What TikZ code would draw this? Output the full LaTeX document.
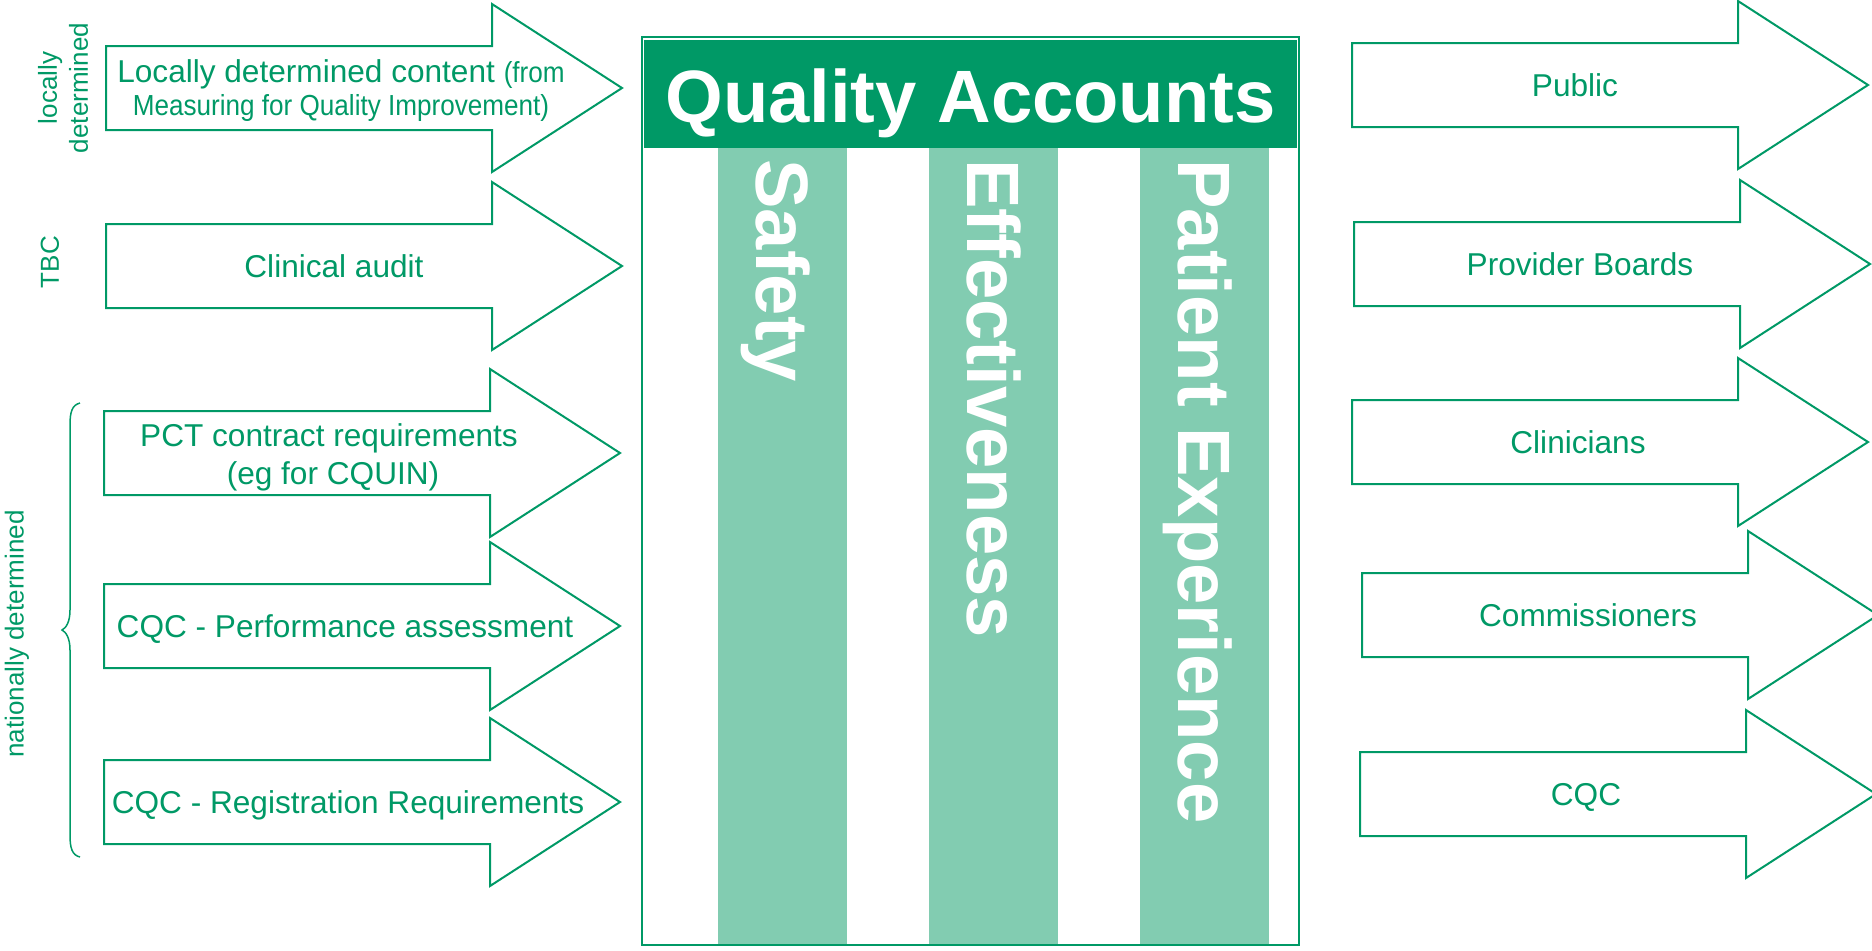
\documentclass[tikz,border=0pt]{standalone}
\usepackage{fontspec}
\setmainfont{Liberation Sans}
\newfontfamily\narrowsans[FakeStretch=0.9]{Liberation Sans}
\usetikzlibrary{positioning}

\definecolor{qgreen}{RGB}{0,153,102}
\definecolor{qpale}{RGB}{130,204,177}

\begin{document}
\begin{tikzpicture}[x=0.5pt, y=-0.5pt, align=center]
    \tikzset{
        flow/.pic       =   { \draw[qgreen, line width=1pt]
                                (0,-42) -- (386,-42) -- (386,-84) -- (516,0)
                                -- (386,84) -- (386,42) -- (0,42) -- cycle;
        }
        , txt/.style    =   { text=qgreen
                            , inner sep=0pt
                            , anchor=base
                            , font=\fontsize{15.8}{19}\selectfont
        }
        , subtxt/.style =   { txt
                            , font=\narrowsans\fontsize{14.5}{17}\selectfont
        }
        , sidetxt/.style=   { text=qgreen
                            , inner sep=0pt
                            , rotate=90
                            , font=\fontsize{13}{15.5}\selectfont
        }
        , pillar/.style =   { text=white
                            , inner sep=0pt
                            , rotate=-90
                            , anchor=base west
                            , font=\bfseries\fontsize{37.1}{40}\selectfont
        }
    }
    \useasboundingbox (0,0) rectangle (1872,950);

    % the Quality Accounts block
    \fill[qpale] (718,148)  rectangle (847,944);
    \fill[qpale] (929,148)  rectangle (1058,944);
    \fill[qpale] (1140,148) rectangle (1269,944);
    \fill[qgreen] (644,40) rectangle (1297,148);
    \draw[qgreen, line width=1.2pt] (642,37) rectangle (1299,945);
    \node(title)[anchor=base, text=white, inner sep=0pt
                , font=\bfseries\fontsize{37.1}{40}\selectfont] at (970.5,122) {Quality Accounts};
    \node(safety)[pillar]  at (756,159)  {Safety};
    \node(effect)[pillar]  at (967,159)  {Effectiveness};
    \node(patient)[pillar] at (1178,159) {Patient Experience};

    % what goes in
    \pic at (106,88)  {flow};
    \pic at (106,266) {flow};
    \pic at (104,453) {flow};
    \pic at (104,626) {flow};
    \pic at (104,802) {flow};
    \node(local)[txt]    at (341,82)  {Locally determined content {\narrowsans\fontsize{14.5}{17}\selectfont(from}};
    \node(mqi)[subtxt]   at (341,115) {Measuring for Quality Improvement)};
    \node(audit)[txt]    at (334,277) {Clinical audit};
    \node(pct)[txt]      at (329,446) {PCT contract requirements};
    \node(cquin)[txt]    at (333,484) {(eg for CQUIN)};
    \node(perf)[txt]     at (345,637) {CQC - Performance assessment};
    \node(reg)[txt]      at (348,813) {CQC - Registration Requirements};

    % where it comes from
    \node(locally)[sidetxt]  at (63,88)  {locally\\determined};
    \node(tbc)[sidetxt]      at (50,262) {TBC};
    \node(national)[sidetxt] at (17,634) {nationally determined};
    \draw[qgreen, line width=0.75pt]
        (80,403) .. controls (72,405) and (70,412) .. (70,425) -- (70,610)
        .. controls (70,622) and (66,628) .. (62,630)
        .. controls (66,632) and (70,638) .. (70,650) -- (70,835)
        .. controls (70,848) and (72,855) .. (80,857);

    % who reads it
    \pic at (1352,85)  {flow};
    \pic at (1354,264) {flow};
    \pic at (1352,442) {flow};
    \pic at (1362,615) {flow};
    \pic at (1360,794) {flow};
    \node(public)[txt] at (1575,96)  {Public};
    \node(boards)[txt] at (1580,275) {Provider Boards};
    \node(clin)[txt]   at (1578,453) {Clinicians};
    \node(comm)[txt]   at (1588,626) {Commissioners};
    \node(cqc)[txt]    at (1586,805) {CQC};
\end{tikzpicture}
\end{document}
